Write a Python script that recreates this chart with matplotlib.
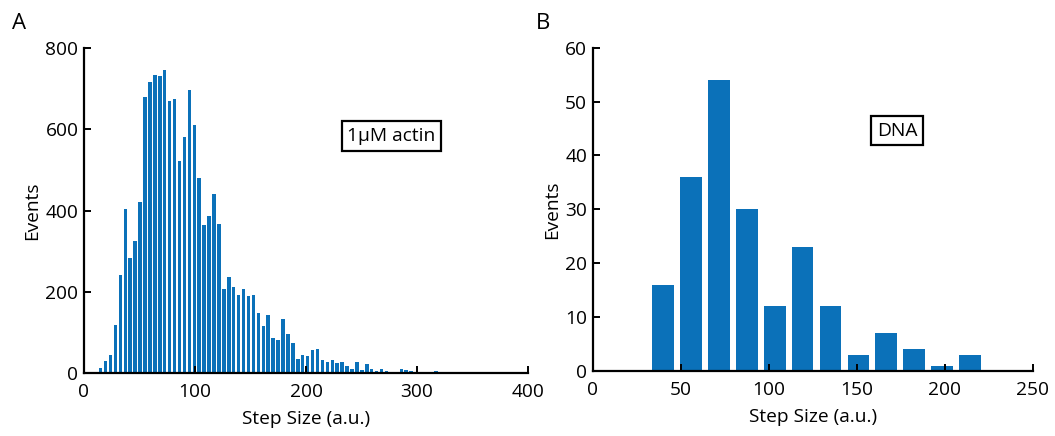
import numpy as np
import matplotlib
matplotlib.use("Agg")
import matplotlib.pyplot as plt

plt.rcParams['font.family'] = ['Open Sans', 'DejaVu Sans']

# Panel A: step sizes with 1 uM actin (histogram bin centres / counts)
actin_first_center = 15.0
actin_bin_width = 4.44
actin_counts = [
    12, 30, 44, 118, 240, 403, 283, 326, 422, 680,
    717, 733, 731, 745, 670, 675, 523, 582, 696, 610,
    480, 364, 387, 441, 368, 206, 236, 212, 193, 207,
    189, 191, 148, 116, 142, 85, 82, 132, 95, 74,
    34, 44, 43, 57, 59, 32, 28, 31, 25, 26,
    16, 10, 28, 8, 21, 10, 4, 11, 4, 1,
    1, 9, 7, 4, 0, 0, 0, 0, 5, 3,
    1, 0, 0, 0, 1,
]

# Panel B: step sizes on DNA
dna_first_center = 40.0
dna_bin_width = 15.85
dna_counts = [16, 36, 54, 30, 12, 23, 12, 3, 7, 4, 1, 3]

bar_color = '#0b71b9'
label_size = 13.8


def style_axes(ax):
    for side in ('top', 'right'):
        ax.spines[side].set_visible(False)
    for side in ('left', 'bottom'):
        ax.spines[side].set_linewidth(1.6)
        ax.spines[side].set_color('black')
    ax.tick_params(direction='in', length=5, width=1.4, labelsize=label_size,
                   colors='black')
    ax.tick_params(axis='x', pad=7)
    ax.tick_params(axis='y', pad=4)


fig = plt.figure(figsize=(10.55, 4.36), dpi=100)

# --- A ---
ax1 = fig.add_axes([0.0796, 0.1445, 0.4209, 0.7454])
centers_a = actin_first_center + actin_bin_width * np.arange(len(actin_counts))
ax1.bar(centers_a, actin_counts, width=actin_bin_width * 0.72,
        color=bar_color, linewidth=0)
ax1.set_xlim(0, 400)
ax1.set_ylim(0, 800)
ax1.set_xticks([0, 100, 200, 300, 400])
ax1.set_yticks([0, 200, 400, 600, 800])
ax1.set_xlabel('Step Size (a.u.)', fontsize=label_size, labelpad=7)
ax1.set_ylabel('Events', fontsize=label_size, labelpad=3)
style_axes(ax1)
ax1.text(277, 583, '1\u03bcM actin', fontsize=label_size, ha='center', va='center',
         bbox=dict(boxstyle='square,pad=0.3', facecolor='white',
                   edgecolor='black', linewidth=1.6))
fig.text(0.011, 0.945, 'A', fontsize=16, ha='left', va='center')

# --- B ---
ax2 = fig.add_axes([0.5618, 0.1491, 0.4171, 0.7415])
centers_b = dna_first_center + dna_bin_width * np.arange(len(dna_counts))
ax2.bar(centers_b, dna_counts, width=dna_bin_width * 0.78,
        color=bar_color, linewidth=0)
ax2.set_xlim(0, 250)
ax2.set_ylim(0, 60)
ax2.set_xticks([0, 50, 100, 150, 200, 250])
ax2.set_yticks([0, 10, 20, 30, 40, 50, 60])
ax2.set_xlabel('Step Size (a.u.)', fontsize=label_size, labelpad=7)
ax2.set_ylabel('Events', fontsize=label_size, labelpad=3)
style_axes(ax2)
ax2.text(173, 44.6, 'DNA', fontsize=label_size, ha='center', va='center',
         bbox=dict(boxstyle='square,pad=0.3', facecolor='white',
                   edgecolor='black', linewidth=1.6))
fig.text(0.508, 0.945, 'B', fontsize=16, ha='left', va='center')

fig.savefig('out.png', dpi=100)
